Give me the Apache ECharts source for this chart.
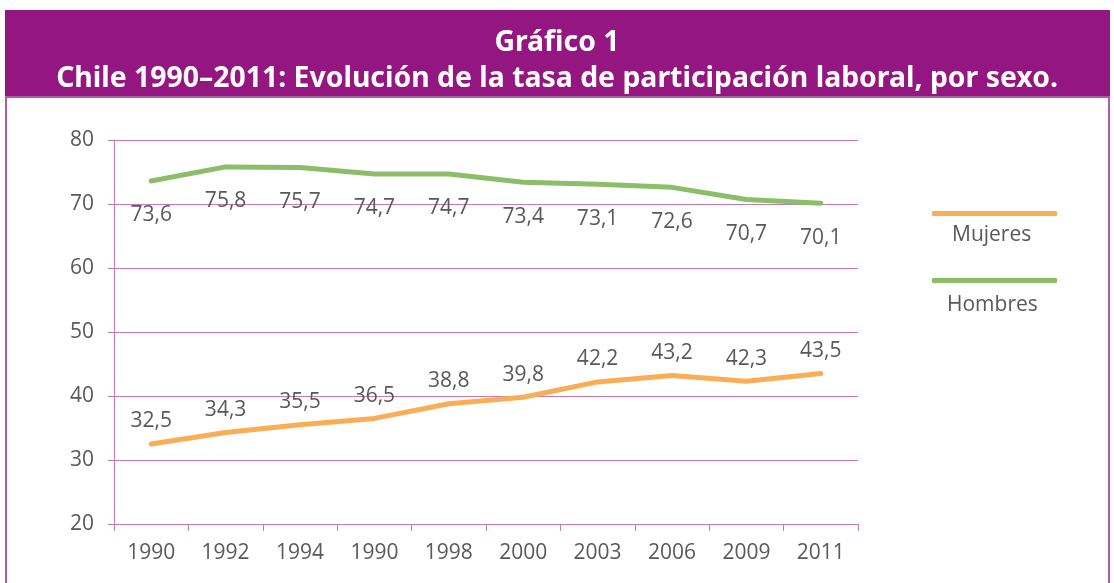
<!DOCTYPE html>
<html>
<head>
<meta charset="utf-8">
<script src="https://cdn.jsdelivr.net/npm/echarts@6/dist/echarts.min.js"></script>
<style>
  html, body { margin: 0; padding: 0; background: #fff; }
  #main { width: 1114px; height: 583px; }
</style>
</head>
<body>
<div id="main"></div>
<script>
// datos del gráfico
var years = ['1990', '1992', '1994', '1990', '1998', '2000', '2003', '2006', '2009', '2011'];
var mujeres = [32.5, 34.3, 35.5, 36.5, 38.8, 39.8, 42.2, 43.2, 42.3, 43.5];
var hombres = [73.6, 75.8, 75.7, 74.7, 74.7, 73.4, 73.1, 72.6, 70.7, 70.1];
var seriesNames = ['Mujeres', 'Hombres'];

var purple = '#941680';
var gridColor = '#c27bb5';
var textColor = '#595959';
var font = 'Open Sans';

function comma(p) {
    return String(p.value).replace('.', ',');
}

var myChart = echarts.init(document.getElementById('main'));

option = {
    backgroundColor: '#fff',
    animation: false,
    title: {
        text: 'Gráfico 1\nChile 1990–2011: Evolución de la tasa de participación laboral, por sexo.',
        left: 'center',
        top: 20,
        textStyle: {
            color: '#fff',
            fontFamily: 'Noto Sans',
            fontWeight: 'bold',
            fontSize: 28.4,
            lineHeight: 36
        }
    },
    graphic: [
        { type: 'rect', z: -1, shape: { x: 5, y: 10, width: 1105, height: 87 }, style: { fill: purple } },
        { type: 'rect', z: -1, shape: { x: 6, y: 97, width: 1103, height: 500 }, style: { fill: 'none', stroke: '#b05aa8', lineWidth: 2 } },
        { type: 'text', left: 952, top: 225, style: { text: seriesNames[0], fill: textColor, font: '21px "' + font + '"' } },
        { type: 'text', left: 947, top: 295, style: { text: seriesNames[1], fill: textColor, font: '21px "' + font + '"' } }
    ],
    legend: {
        data: seriesNames,
        orient: 'vertical',
        left: 927,
        top: 206,
        itemWidth: 125,
        itemHeight: 5,
        itemGap: 62,
        icon: 'roundRect',
        formatter: function () { return ''; },
        textStyle: { fontSize: 1 }
    },
    grid: {
        left: 114,
        right: 256,
        top: 140,
        bottom: 59
    },
    xAxis: {
        type: 'category',
        data: years,
        boundaryGap: true,
        axisLine: { lineStyle: { color: gridColor, width: 1 } },
        axisTick: { show: true, length: 7, lineStyle: { color: gridColor } },
        axisLabel: { color: textColor, fontSize: 21, fontFamily: font, margin: 19 }
    },
    yAxis: {
        type: 'value',
        min: 20,
        max: 80,
        interval: 10,
        axisLine: { show: true, lineStyle: { color: gridColor, width: 1 } },
        axisTick: { show: true, length: 6, lineStyle: { color: gridColor } },
        axisLabel: { color: textColor, fontSize: 21, fontFamily: font, margin: 20 },
        splitLine: { lineStyle: { color: gridColor, width: 1 } }
    },
    series: [
        {
            name: seriesNames[0],
            type: 'line',
            data: mujeres,
            symbol: 'circle',
            symbolSize: 0,
            showSymbol: true,
            color: '#f9ae56',
            lineStyle: { width: 5, cap: 'round' },
            label: {
                show: true,
                position: 'top',
                distance: 12,
                formatter: comma,
                color: textColor,
                fontSize: 21,
                fontFamily: font
            }
        },
        {
            name: seriesNames[1],
            type: 'line',
            data: hombres,
            symbol: 'circle',
            symbolSize: 0,
            showSymbol: true,
            color: '#8cbe69',
            lineStyle: { width: 5, cap: 'round' },
            label: {
                show: true,
                position: 'bottom',
                distance: 24,
                formatter: comma,
                color: textColor,
                fontSize: 21,
                fontFamily: font
            }
        }
    ]
};

myChart.setOption(option);
</script>
</body>
</html>
